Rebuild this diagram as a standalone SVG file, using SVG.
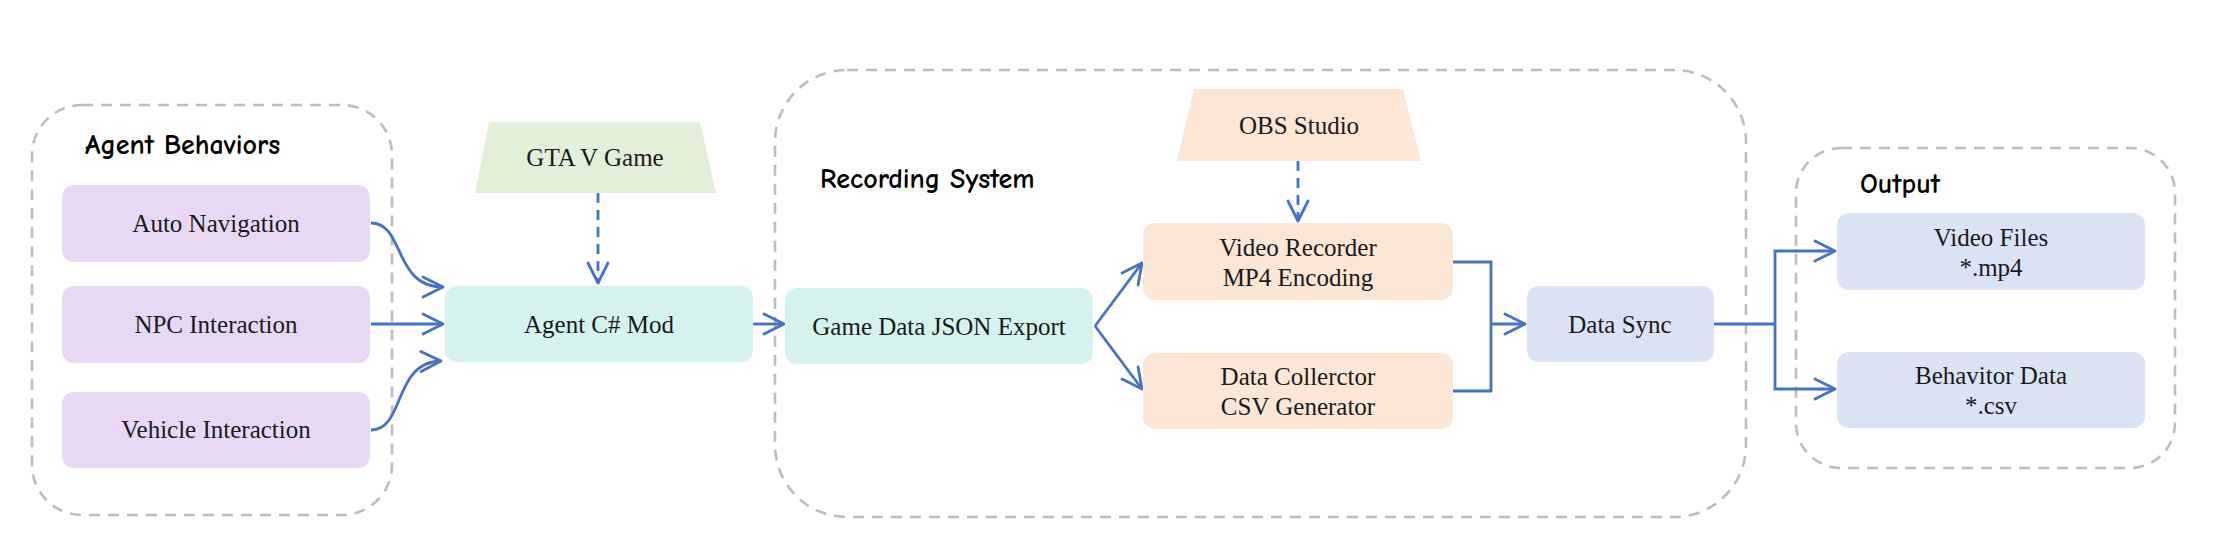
<svg xmlns="http://www.w3.org/2000/svg" width="2228" height="540" viewBox="0 0 2228 540">
  <style>
    .container { fill: none; stroke: #BDBDBD; stroke-width: 2.6; stroke-dasharray: 11 8; }
    .title { font-family: "Comic Sans MS", "Comic Neue", "DejaVu Sans", sans-serif; font-weight: bold; font-size: 28px; fill: #000; }
    .label { font-family: "Liberation Serif", "Times New Roman", serif; font-size: 25px; fill: #1a1a1a; text-anchor: middle; }
    .purple { fill: #E8D8F4; }
    .teal { fill: #D5F2EF; }
    .green { fill: #E2F0DA; }
    .peach { fill: #FCE6D6; }
    .blue { fill: #DAE3F4; }
    .conn { fill: none; stroke: #4472C4; stroke-width: 2.8; }
    .dash { stroke-dasharray: 10 7; }
  </style>
  <defs>
    <marker id="arrow" viewBox="0 0 24 24" refX="22" refY="12" markerWidth="24" markerHeight="24" markerUnits="userSpaceOnUse" orient="auto">
      <path d="M 2 2 L 22 12 L 2 22" fill="none" stroke="#4472C4" stroke-width="2.8" stroke-linecap="round" stroke-linejoin="round"/>
    </marker>
  </defs>

  <g id="containers">
    <g id="agent-behaviors-group">
      <rect class="container" x="32" y="105" width="360" height="410" rx="50" ry="50"/>
      <text class="title" x="85" y="154">Agent Behaviors</text>
    </g>
    <g id="recording-system-group">
      <rect class="container" x="775" y="70" width="971" height="447" rx="72" ry="72"/>
      <text class="title" x="820" y="188">Recording System</text>
    </g>
    <g id="output-group">
      <rect class="container" x="1796" y="148" width="379" height="320" rx="45" ry="45"/>
      <text class="title" x="1860" y="193">Output</text>
    </g>
  </g>

  <g id="connectors">
    <path class="conn" d="M 371 223 C 405 223, 393 287, 443 287" marker-end="url(#arrow)"/>
    <path class="conn" d="M 371 324 L 443 324" marker-end="url(#arrow)"/>
    <path class="conn" d="M 371 430 C 405 430, 393 362, 441 361" marker-end="url(#arrow)"/>
    <path class="conn dash" d="M 598 193 L 598 283" marker-end="url(#arrow)"/>
    <path class="conn" d="M 753 324 L 784 324" marker-end="url(#arrow)"/>
    <path class="conn" d="M 1095 326 L 1142 263" marker-end="url(#arrow)"/>
    <path class="conn" d="M 1095 326 L 1142 389" marker-end="url(#arrow)"/>
    <path class="conn dash" d="M 1298 161 L 1298 221" marker-end="url(#arrow)"/>
    <path class="conn" d="M 1453 262 L 1491 262 L 1491 391 L 1453 391"/>
    <path class="conn" d="M 1491 324 L 1525 324" marker-end="url(#arrow)"/>
    <path class="conn" d="M 1714 324 L 1775 324"/>
    <path class="conn" d="M 1775 324 L 1775 251 L 1835 251" marker-end="url(#arrow)"/>
    <path class="conn" d="M 1775 324 L 1775 389 L 1835 389" marker-end="url(#arrow)"/>
  </g>

  <g id="auto-navigation">
    <rect class="purple" x="62" y="185" width="308" height="77" rx="12"/>
    <text class="label" x="216" y="232">Auto Navigation</text>
  </g>
  <g id="npc-interaction">
    <rect class="purple" x="62" y="286" width="308" height="77" rx="12"/>
    <text class="label" x="216" y="333">NPC Interaction</text>
  </g>
  <g id="vehicle-interaction">
    <rect class="purple" x="62" y="392" width="308" height="76" rx="12"/>
    <text class="label" x="216" y="438">Vehicle Interaction</text>
  </g>
  <g id="gta-v-game">
    <polygon class="green" points="489,122 700,122 716,193 475,193"/>
    <text class="label" x="595" y="166">GTA V Game</text>
  </g>
  <g id="agent-mod">
    <rect class="teal" x="445" y="286" width="308" height="76" rx="12"/>
    <text class="label" x="599" y="333">Agent C# Mod</text>
  </g>
  <g id="game-data-json-export">
    <rect class="teal" x="785" y="288" width="308" height="76" rx="12"/>
    <text class="label" x="939" y="335">Game Data JSON Export</text>
  </g>
  <g id="obs-studio">
    <polygon class="peach" points="1194,89 1403,89 1421,161 1177,161"/>
    <text class="label" x="1299" y="134">OBS Studio</text>
  </g>
  <g id="video-recorder">
    <rect class="peach" x="1143" y="223" width="310" height="77" rx="12"/>
    <text class="label" x="1298" y="256">Video Recorder</text>
    <text class="label" x="1298" y="286">MP4 Encoding</text>
  </g>
  <g id="data-collector">
    <rect class="peach" x="1143" y="353" width="310" height="76" rx="12"/>
    <text class="label" x="1298" y="385">Data Collerctor</text>
    <text class="label" x="1298" y="415">CSV Generator</text>
  </g>
  <g id="data-sync">
    <rect class="blue" x="1527" y="286" width="187" height="76" rx="12"/>
    <text class="label" x="1620" y="333">Data Sync</text>
  </g>
  <g id="video-files">
    <rect class="blue" x="1837" y="213" width="308" height="77" rx="12"/>
    <text class="label" x="1991" y="246">Video Files</text>
    <text class="label" x="1991" y="276">*.mp4</text>
  </g>
  <g id="behavior-data">
    <rect class="blue" x="1837" y="352" width="308" height="76" rx="12"/>
    <text class="label" x="1991" y="384">Behavitor Data</text>
    <text class="label" x="1991" y="414">*.csv</text>
  </g>
</svg>
